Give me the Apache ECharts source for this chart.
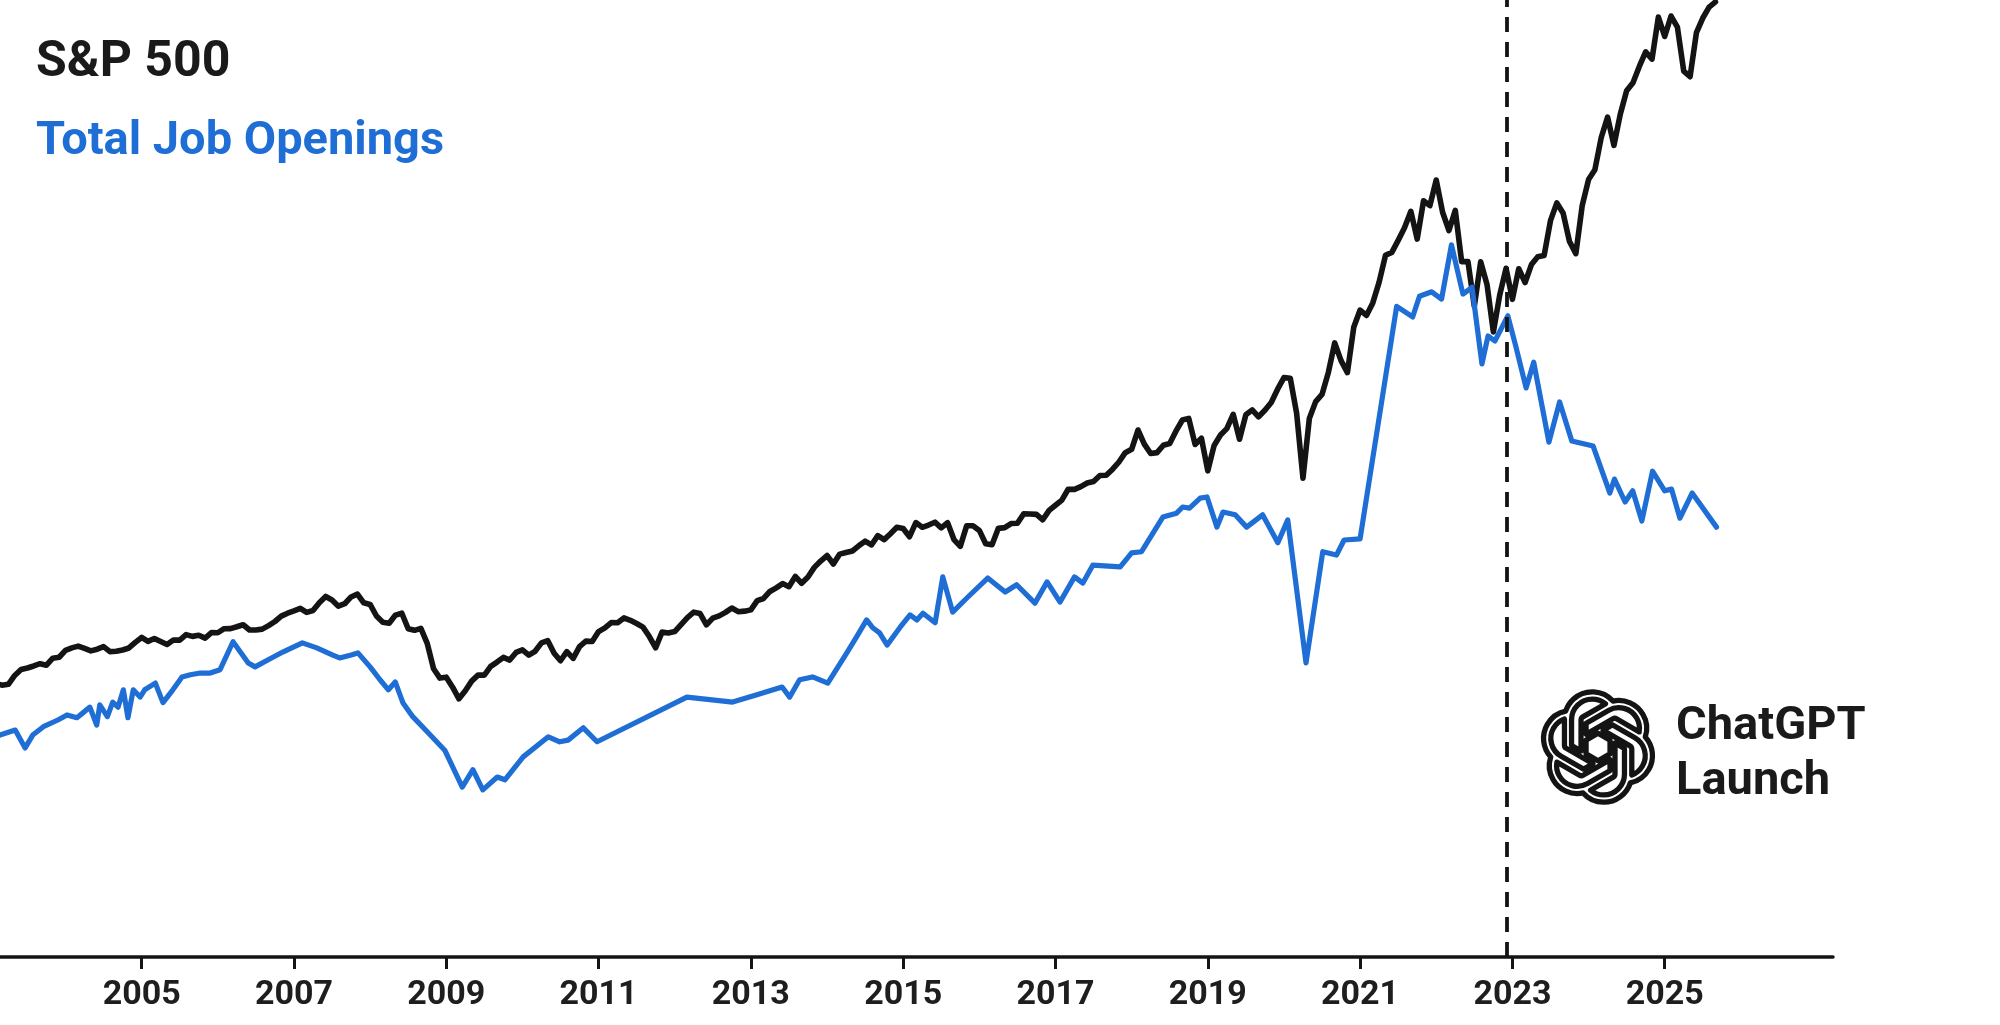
<!DOCTYPE html>
<html>
<head>
<meta charset="utf-8">
<style>
  html, body { margin: 0; padding: 0; background: #ffffff; }
  #chart { width: 2000px; height: 1025px; }
</style>
<script src="https://cdn.jsdelivr.net/npm/echarts@6/dist/echarts.min.js"></script>
</head>
<body>
<div id="chart"></div>
<script>
// ---- Data ----
// S&P 500 month-end closes, Jan 2003 .. Aug 2025 (plotted at the end of each month)
const spFirstYear = 2003;
const spMonthlyClose = [
  // 2003
  855.7, 841.2, 848.2, 916.9, 963.6, 974.5, 990.3, 1008.0, 996.0, 1050.7, 1058.2, 1111.9,
  // 2004
  1131.1, 1144.9, 1126.2, 1107.3, 1120.7, 1140.8, 1101.7, 1104.2, 1114.6, 1130.2, 1173.8, 1211.9,
  // 2005
  1181.3, 1203.6, 1180.6, 1156.9, 1191.5, 1191.3, 1234.2, 1220.3, 1228.8, 1207.0, 1249.5, 1248.3,
  // 2006
  1280.1, 1280.7, 1294.8, 1310.6, 1270.1, 1270.2, 1276.7, 1303.8, 1335.9, 1377.9, 1400.6, 1418.3,
  // 2007
  1438.2, 1406.8, 1420.9, 1482.4, 1530.6, 1503.4, 1455.3, 1474.0, 1526.8, 1549.4, 1481.1, 1468.4,
  // 2008
  1378.6, 1330.6, 1322.7, 1385.6, 1400.4, 1280.0, 1267.4, 1282.8, 1166.4, 968.8, 896.2, 903.3,
  // 2009
  825.9, 735.1, 797.9, 872.8, 919.1, 919.3, 987.5, 1020.6, 1057.1, 1036.2, 1095.6, 1115.1,
  // 2010
  1073.9, 1104.5, 1169.4, 1186.7, 1089.4, 1030.7, 1101.6, 1049.3, 1141.2, 1183.3, 1180.6, 1257.6,
  // 2011
  1286.1, 1327.2, 1325.8, 1363.6, 1345.2, 1320.6, 1292.3, 1218.9, 1131.4, 1253.3, 1247.0, 1257.6,
  // 2012
  1312.4, 1365.7, 1408.5, 1397.9, 1310.3, 1362.2, 1379.3, 1406.6, 1440.7, 1412.2, 1416.2, 1426.2,
  // 2013
  1498.1, 1514.7, 1569.2, 1597.6, 1630.7, 1606.3, 1685.7, 1633.0, 1681.6, 1756.5, 1805.8, 1848.4,
  // 2014
  1782.6, 1859.5, 1872.3, 1884.0, 1923.6, 1960.2, 1930.7, 2003.4, 1972.3, 2018.1, 2067.6, 2058.9,
  // 2015
  1995.0, 2104.5, 2067.9, 2085.5, 2107.4, 2063.1, 2103.8, 1972.2, 1920.0, 2079.4, 2080.4, 2043.9,
  // 2016
  1940.2, 1932.2, 2059.7, 2065.3, 2097.0, 2098.9, 2173.6, 2171.0, 2168.3, 2126.2, 2198.8, 2238.8,
  // 2017
  2278.9, 2363.6, 2362.7, 2384.2, 2411.8, 2423.4, 2470.3, 2471.7, 2519.4, 2575.3, 2647.6, 2673.6,
  // 2018
  2823.8, 2713.8, 2640.9, 2648.1, 2705.3, 2718.4, 2816.3, 2901.5, 2914.0, 2711.7, 2760.2, 2506.9,
  // 2019
  2704.1, 2784.5, 2834.4, 2945.8, 2752.1, 2941.8, 2980.4, 2926.5, 2976.7, 3037.6, 3141.0, 3230.8,
  // 2020
  3225.5, 2954.2, 2450.0, 2912.4, 3044.3, 3100.3, 3271.1, 3500.3, 3363.0, 3270.0, 3621.6, 3756.1,
  // 2021
  3714.2, 3811.2, 3972.9, 4181.2, 4204.1, 4297.5, 4395.3, 4522.7, 4307.5, 4605.4, 4567.0, 4766.2,
  // 2022
  4515.6, 4373.9, 4530.4, 4131.9, 4132.2, 3785.4, 4130.3, 3955.0, 3585.6, 3872.0, 4080.1, 3839.5,
  // 2023
  4076.6, 3970.2, 4109.3, 4169.5, 4179.8, 4450.4, 4589.0, 4507.7, 4288.1, 4193.8, 4567.8, 4769.8,
  // 2024
  4845.7, 5096.3, 5254.4, 5035.7, 5277.5, 5460.5, 5522.3, 5648.4, 5762.5, 5705.5, 6032.4, 5881.6,
  // 2025
  6040.5, 5954.5, 5611.9, 5569.1, 5911.7, 6025.0, 6110.0, 6150.0
];

// Total job openings (millions), vertices
const jobDates = [
  2003.14, 2003.34, 2003.47, 2003.57, 2003.71, 2003.90, 2004.02, 2004.15, 2004.32, 2004.41,
  2004.45, 2004.55, 2004.62, 2004.69, 2004.76, 2004.82, 2004.89, 2004.98, 2005.04, 2005.18,
  2005.28, 2005.41, 2005.53, 2005.64, 2005.77, 2005.90, 2006.03, 2006.20, 2006.40, 2006.49,
  2006.65, 2006.86, 2007.11, 2007.30, 2007.51, 2007.60, 2007.74, 2007.84, 2008.00, 2008.13,
  2008.24, 2008.33, 2008.43, 2008.56, 2008.75, 2008.98, 2009.21, 2009.35, 2009.48, 2009.67,
  2009.77, 2010.01, 2010.34, 2010.49, 2010.60, 2010.80, 2010.98, 2012.16, 2012.76, 2013.08,
  2013.41, 2013.51, 2013.64, 2013.81, 2014.01, 2014.26, 2014.39, 2014.52, 2014.60, 2014.69,
  2014.79, 2014.96, 2015.09, 2015.18, 2015.26, 2015.42, 2015.52, 2015.65, 2015.85, 2016.11,
  2016.34, 2016.49, 2016.73, 2016.89, 2017.06, 2017.25, 2017.36, 2017.49, 2017.85, 2018.00,
  2018.13, 2018.41, 2018.59, 2018.67, 2018.76, 2018.90, 2018.99, 2019.12, 2019.20, 2019.36,
  2019.51, 2019.72, 2019.92, 2020.05, 2020.29, 2020.51, 2020.69, 2020.79, 2021.00, 2021.48,
  2021.69, 2021.78, 2021.94, 2022.07, 2022.20, 2022.35, 2022.47, 2022.60, 2022.68, 2022.77,
  2022.94, 2023.04, 2023.18, 2023.28, 2023.48, 2023.62, 2023.78, 2024.06, 2024.28, 2024.34,
  2024.48, 2024.58, 2024.70, 2024.84, 2025.00, 2025.09, 2025.20, 2025.36, 2025.68
];
const jobValues = [
  3.18, 3.27, 2.95, 3.18, 3.33, 3.45, 3.54, 3.49, 3.68, 3.36,
  3.72, 3.51, 3.77, 3.68, 3.99, 3.49, 3.99, 3.86, 3.99, 4.11,
  3.76, 3.99, 4.22, 4.26, 4.29, 4.29, 4.35, 4.85, 4.47, 4.40,
  4.52, 4.67, 4.83, 4.74, 4.61, 4.56, 4.61, 4.65, 4.40, 4.17,
  3.99, 4.13, 3.76, 3.51, 3.24, 2.91, 2.25, 2.56, 2.20, 2.43,
  2.38, 2.79, 3.15, 3.06, 3.09, 3.31, 3.06, 3.86, 3.77, 3.90,
  4.04, 3.86, 4.17, 4.22, 4.11, 4.65, 4.94, 5.24, 5.10, 5.01,
  4.79, 5.11, 5.33, 5.24, 5.36, 5.19, 6.01, 5.38, 5.65, 5.99,
  5.74, 5.87, 5.54, 5.92, 5.56, 6.01, 5.90, 6.22, 6.19, 6.44,
  6.46, 7.08, 7.15, 7.26, 7.24, 7.42, 7.44, 6.90, 7.17, 7.12,
  6.90, 7.12, 6.62, 7.03, 4.47, 6.46, 6.40, 6.67, 6.69, 10.85,
  10.66, 11.03, 11.11, 10.98, 11.95, 11.07, 11.19, 9.82, 10.32, 10.23,
  10.68, 10.16, 9.39, 9.85, 8.42, 9.14, 8.44, 8.35, 7.51, 7.76,
  7.35, 7.55, 7.01, 7.90, 7.55, 7.58, 7.06, 7.51, 6.90
];

const tickYears = [2005, 2007, 2009, 2011, 2013, 2015, 2017, 2019, 2021, 2023, 2025];
const chatGptLaunch = 2022.92;
const seriesNames = ['S&P 500', 'Total Job Openings'];
const annotationLines = ['ChatGPT', 'Launch'];

// ---- Build ----
const spData = spMonthlyClose.map((v, i) => [spFirstYear + (i + 1) / 12, v]);
const jobData = jobDates.map((d, i) => [d, jobValues[i]]);

const BLACK = '#141414';
const BLUE = '#1f6ed6';
const FONT = 'Roboto, "Liberation Sans", Arial, sans-serif';

const openaiPath = "M22.2819 9.8211a5.9847 5.9847 0 0 0-.5157-4.9108 6.0462 6.0462 0 0 0-6.5098-2.9A6.0651 6.0651 0 0 0 4.9807 4.1818a5.9847 5.9847 0 0 0-3.9977 2.9 6.0462 6.0462 0 0 0 .7427 7.0966 5.98 5.98 0 0 0 .511 4.9107 6.051 6.051 0 0 0 6.5146 2.9001A5.9847 5.9847 0 0 0 13.2599 24a6.0557 6.0557 0 0 0 5.7718-4.2058 5.9894 5.9894 0 0 0 3.9977-2.9001 6.0557 6.0557 0 0 0-.7475-7.0729zm-9.022 12.6081a4.4755 4.4755 0 0 1-2.8764-1.0408l.1419-.0804 4.7783-2.7582a.7948.7948 0 0 0 .3927-.6813v-6.7369l2.02 1.1686a.071.071 0 0 1 .038.052v5.5826a4.504 4.504 0 0 1-4.4945 4.4944zm-9.6607-4.1254a4.4708 4.4708 0 0 1-.5346-3.0137l.142.0852 4.783 2.7582a.7712.7712 0 0 0 .7806 0l5.8428-3.3685v2.3324a.0804.0804 0 0 1-.0332.0615L9.74 19.9502a4.4992 4.4992 0 0 1-6.1408-1.6464zM2.3408 7.8956a4.485 4.485 0 0 1 2.3655-1.9728V11.6a.7664.7664 0 0 0 .3879.6765l5.8144 3.3543-2.0201 1.1685a.0757.0757 0 0 1-.071 0l-4.8303-2.7865A4.504 4.504 0 0 1 2.3408 7.872zm16.5963 3.8558L13.1038 8.364 15.1192 7.2a.0757.0757 0 0 1 .071 0l4.8303 2.7913a4.4944 4.4944 0 0 1-.6765 8.1042v-5.6772a.79.79 0 0 0-.407-.667zm2.0107-3.0231l-.142-.0852-4.7735-2.7818a.7759.7759 0 0 0-.7854 0L9.409 9.2297V6.8974a.0662.0662 0 0 1 .0284-.0615l4.8303-2.7866a4.4992 4.4992 0 0 1 6.6802 4.66zM8.3065 12.863l-2.02-1.1638a.0804.0804 0 0 1-.038-.0567V6.0742a4.4992 4.4992 0 0 1 7.3757-3.4537l-.142.0805L8.704 5.459a.7948.7948 0 0 0-.3927.6813zm1.0976-2.3654l2.602-1.4998 2.6069 1.4998v2.9994l-2.5974 1.4997-2.6067-1.4997Z";

let logoType = null;
try {
  const OpenAIShape = echarts.graphic.extendPath(openaiPath, {});
  echarts.graphic.registerShape('openaiLogo', OpenAIShape);
  logoType = 'openaiLogo';
} catch (e) {
  logoType = null;
}

const chart = echarts.init(document.getElementById('chart'), null, { renderer: 'canvas' });

const LOGO_SCALE = 4.6;
const graphics = [
  {
    type: 'text', x: 36, y: 63,
    style: { text: seriesNames[0], fill: '#1a1a1a', fontFamily: FONT, fontWeight: 'bold', fontSize: 50,
             align: 'left', verticalAlign: 'middle' }
  },
  {
    type: 'text', x: 36, y: 142,
    style: { text: seriesNames[1], fill: BLUE, fontFamily: FONT, fontWeight: 'bold', fontSize: 47,
             align: 'left', verticalAlign: 'middle' }
  },
  {
    type: 'text', x: 1676, y: 727,
    style: { text: annotationLines[0], fill: '#1a1a1a', fontFamily: FONT, fontWeight: 'bold', fontSize: 47,
             align: 'left', verticalAlign: 'middle' }
  },
  {
    type: 'text', x: 1676, y: 782,
    style: { text: annotationLines[1], fill: '#1a1a1a', fontFamily: FONT, fontWeight: 'bold', fontSize: 47,
             align: 'left', verticalAlign: 'middle' }
  }
];
if (logoType) {
  graphics.push({
    type: logoType,
    x: 1598 - 12 * LOGO_SCALE,
    y: 747 - 12 * LOGO_SCALE,
    scaleX: LOGO_SCALE,
    scaleY: LOGO_SCALE,
    shape: {},
    style: { fill: '#ffffff', stroke: BLACK, lineWidth: 1.15, lineJoin: 'round' }
  });
}

const option = {
  animation: false,
  backgroundColor: '#ffffff',
  grid: { left: 0, right: 167, top: 0, bottom: 68, containLabel: false },
  xAxis: {
    type: 'value',
    min: 2003.14,
    max: 2027.21,
    axisLine: { show: true, onZero: false, lineStyle: { color: BLACK, width: 3.5 } },
    axisTick: { show: true, customValues: tickYears, length: 12, lineStyle: { color: BLACK, width: 3 } },
    axisLabel: {
      customValues: tickYears,
      formatter: (v) => String(v),
      fontFamily: FONT, fontWeight: 'bold', fontSize: 34, color: '#1e1e1e', margin: 21
    },
    splitLine: { show: false }
  },
  yAxis: [
    { type: 'value', min: -1271, max: 6165, show: false, splitLine: { show: false } },
    { type: 'value', min: -0.79, max: 16.33, show: false, splitLine: { show: false } }
  ],
  series: [
    {
      name: seriesNames[0],
      type: 'line',
      yAxisIndex: 0,
      data: spData,
      showSymbol: false,
      symbol: 'none',
      clip: true,
      lineStyle: { color: BLACK, width: 5.6, cap: 'round', join: 'round' },
      z: 3,
      markLine: {
        silent: true,
        symbol: ['none', 'none'],
        label: { show: false },
        lineStyle: { color: BLACK, width: 3.8, type: [15, 10] },
        data: [{ xAxis: chatGptLaunch }]
      }
    },
    {
      name: seriesNames[1],
      type: 'line',
      yAxisIndex: 1,
      data: jobData,
      showSymbol: false,
      symbol: 'none',
      clip: true,
      lineStyle: { color: BLUE, width: 5.2, cap: 'round', join: 'round' },
      z: 4
    }
  ],
  graphic: graphics
};

chart.setOption(option);
</script>
</body>
</html>
